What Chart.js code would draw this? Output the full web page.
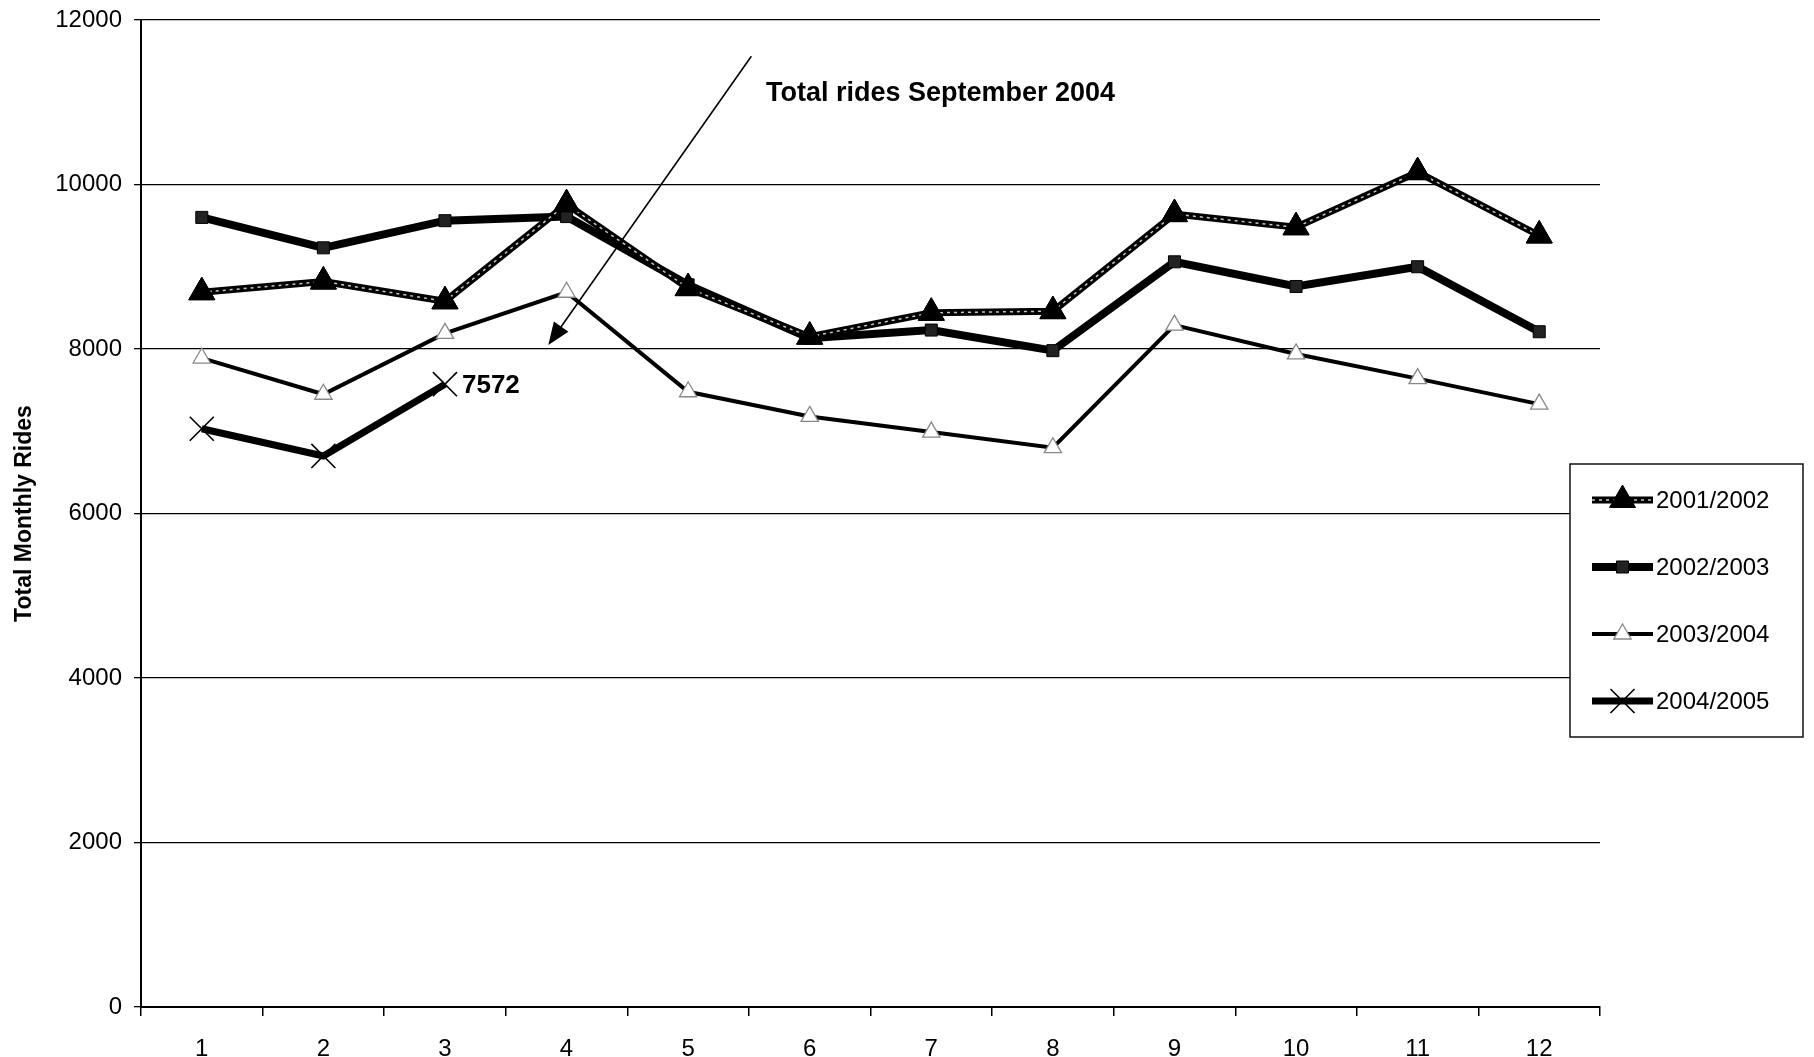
<!DOCTYPE html>
<html>
<head>
<meta charset="utf-8">
<script src="https://cdn.jsdelivr.net/npm/chart.js@4.4.0/dist/chart.umd.min.js"></script>
<style>
  html, body { margin: 0; padding: 0; background: #fff; }
  #wrap { width: 1814px; height: 1057px; }
</style>
</head>
<body>
<div id="wrap"><canvas id="ridesChart" width="1814" height="1057"></canvas></div>
<script>
const months = ['1', '2', '3', '4', '5', '6', '7', '8', '9', '10', '11', '12'];
const seasons = ['2001/2002', '2002/2003', '2003/2004', '2004/2005'];
const rides0102 = [8690, 8820, 8580, 9760, 8740, 8150, 8440, 8460, 9640, 9480, 10150, 9380];
const rides0203 = [9600, 9230, 9560, 9610, 8780, 8130, 8230, 7980, 9060, 8760, 9000, 8210];
const rides0304 = [7890, 7450, 8190, 8690, 7480, 7180, 6990, 6800, 8290, 7940, 7640, 7330];
const rides0405 = [7030, 6700, 7572, null, null, null, null, null, null, null, null, null];
const yMin = 0, yMax = 12000, yStep = 2000;
const noteText = 'Total rides September 2004';

const FONT = "Arial, 'Liberation Sans', sans-serif";

// white page behind everything
const whiteBg = {
  id: 'whiteBg',
  beforeDraw(chart) {
    const c = chart.ctx;
    c.save();
    c.fillStyle = '#fff';
    c.fillRect(0, 0, chart.width, chart.height);
    c.restore();
  }
};

// light dotted core on the 2001/2002 line, markers redrawn on top
const coreLine = {
  id: 'coreLine',
  afterDatasetDraw(chart, args) {
    if (args.index !== 0) return;
    const pts = args.meta.data;
    const c = chart.ctx;
    c.save();
    c.strokeStyle = '#c8c8c8';
    c.lineWidth = 1.5;
    c.setLineDash([3, 4]);
    c.beginPath();
    pts.forEach((p, i) => i ? c.lineTo(p.x, p.y) : c.moveTo(p.x, p.y));
    c.stroke();
    c.restore();
    pts.forEach(p => p.draw(c, chart.chartArea));
  }
};

function drawMarker(c, ds, x, y) {
  c.save();
  c.fillStyle = ds.pointBackgroundColor;
  c.strokeStyle = ds.pointBorderColor;
  c.lineWidth = ds.pointBorderWidth;
  Chart.helpers.drawPoint(c, {
    pointStyle: ds.pointStyle, radius: ds.pointRadius,
    borderWidth: ds.pointBorderWidth, rotation: 0
  }, x, y);
  c.restore();
}

// arrow note, value label and boxed legend
const notes = {
  id: 'notes',
  afterDraw(chart) {
    const c = chart.ctx;
    const xs = chart.scales.x, ys = chart.scales.y;

    // arrow pointing at September
    const x0 = xs.getPixelForValue(4.52), y0 = ys.getPixelForValue(11560);
    const x1 = xs.getPixelForValue(2.85), y1 = ys.getPixelForValue(8050);
    const ang = Math.atan2(y1 - y0, x1 - x0);
    c.save();
    c.strokeStyle = '#000';
    c.fillStyle = '#000';
    c.lineWidth = 1.6;
    c.beginPath();
    c.moveTo(x0, y0);
    c.lineTo(x1 - Math.cos(ang) * 14, y1 - Math.sin(ang) * 14);
    c.stroke();
    c.beginPath();
    c.moveTo(x1, y1);
    c.lineTo(x1 - Math.cos(ang - 0.38) * 24, y1 - Math.sin(ang - 0.38) * 24);
    c.lineTo(x1 - Math.cos(ang + 0.38) * 24, y1 - Math.sin(ang + 0.38) * 24);
    c.closePath();
    c.fill();

    c.font = 'bold 27px ' + FONT;
    c.textBaseline = 'middle';
    c.textAlign = 'left';
    c.fillText(noteText, xs.getPixelForValue(4.64), ys.getPixelForValue(11100));

    // value of the latest point
    const meta = chart.getDatasetMeta(3);
    const last = rides0405.filter(v => v !== null).length - 1;
    const p = meta.data[last];
    c.font = 'bold 26px ' + FONT;
    c.fillText(String(rides0405[last]), p.x + 17, p.y + 2);
    c.restore();

    // legend box
    const bx = chart.chartArea.right - 30, by = 464, bw = 233, bh = 273;
    c.save();
    c.fillStyle = '#fff';
    c.fillRect(bx, by, bw, bh);
    c.strokeStyle = '#111';
    c.lineWidth = 1.5;
    c.strokeRect(bx, by, bw, bh);
    chart.data.datasets.forEach((ds, i) => {
      const ry = by + 36 + i * 67;
      const lx0 = bx + 22, lx1 = bx + 83, mx = (lx0 + lx1) / 2;
      c.strokeStyle = ds.borderColor;
      c.lineWidth = ds.borderWidth;
      c.beginPath();
      c.moveTo(lx0, ry);
      c.lineTo(lx1, ry);
      c.stroke();
      if (i === 0) {
        c.save();
        c.strokeStyle = '#c8c8c8';
        c.lineWidth = 1.5;
        c.setLineDash([3, 4]);
        c.beginPath();
        c.moveTo(lx0, ry);
        c.lineTo(lx1, ry);
        c.stroke();
        c.restore();
      }
      drawMarker(c, ds, mx, ry);
      c.fillStyle = '#000';
      c.font = '24px ' + FONT;
      c.textAlign = 'left';
      c.textBaseline = 'middle';
      c.fillText(ds.label, lx1 + 3, ry + 1);
    });
    c.restore();
  }
};

new Chart(document.getElementById('ridesChart'), {
  type: 'line',
  data: {
    labels: months,
    datasets: [
      {
        label: seasons[0], data: rides0102,
        borderColor: '#000', borderWidth: 7,
        pointStyle: 'triangle', pointRadius: 15,
        pointBackgroundColor: '#000', pointBorderColor: '#000', pointBorderWidth: 1,
        tension: 0
      },
      {
        label: seasons[1], data: rides0203,
        borderColor: '#000', borderWidth: 8,
        pointStyle: 'rect', pointRadius: 8.5,
        pointBackgroundColor: '#222', pointBorderColor: '#000', pointBorderWidth: 1,
        tension: 0
      },
      {
        label: seasons[2], data: rides0304,
        borderColor: '#000', borderWidth: 4,
        pointStyle: 'triangle', pointRadius: 10,
        pointBackgroundColor: '#fff', pointBorderColor: '#888', pointBorderWidth: 1.3,
        tension: 0
      },
      {
        label: seasons[3], data: rides0405,
        borderColor: '#000', borderWidth: 7,
        pointStyle: 'crossRot', pointRadius: 17,
        pointBackgroundColor: '#000', pointBorderColor: '#000', pointBorderWidth: 1.6,
        tension: 0, spanGaps: false
      }
    ]
  },
  options: {
    responsive: false,
    animation: false,
    devicePixelRatio: 1,
    layout: { padding: { top: 20, right: 214, left: 0, bottom: 0 } },
    plugins: {
      legend: { display: false },
      tooltip: { enabled: false }
    },
    scales: {
      x: {
        offset: true,
        grid: { offset: true, drawOnChartArea: false, color: '#000', lineWidth: 1.5, tickLength: 9 },
        border: { color: '#000', width: 2 },
        ticks: { color: '#000', font: { family: FONT, size: 24 }, padding: 19, maxRotation: 0 },
        afterFit(scale) { scale.height = 50; }
      },
      y: {
        min: yMin, max: yMax,
        grid: { color: '#000', lineWidth: 1.3, tickLength: 7 },
        border: { color: '#000', width: 2 },
        ticks: {
          stepSize: yStep, color: '#000', font: { family: FONT, size: 24 }, padding: 12,
          callback: v => String(v)
        },
        title: {
          display: true, text: 'Total Monthly Rides', color: '#000',
          font: { family: FONT, size: 23, weight: 'bold' },
          padding: { top: 11, bottom: 0 }
        },
        afterFit(scale) {
          scale.width = 141;
          scale.paddingTop = 0;
          scale.paddingBottom = 0;
        }
      }
    }
  },
  plugins: [whiteBg, coreLine, notes]
});
</script>
</body>
</html>
